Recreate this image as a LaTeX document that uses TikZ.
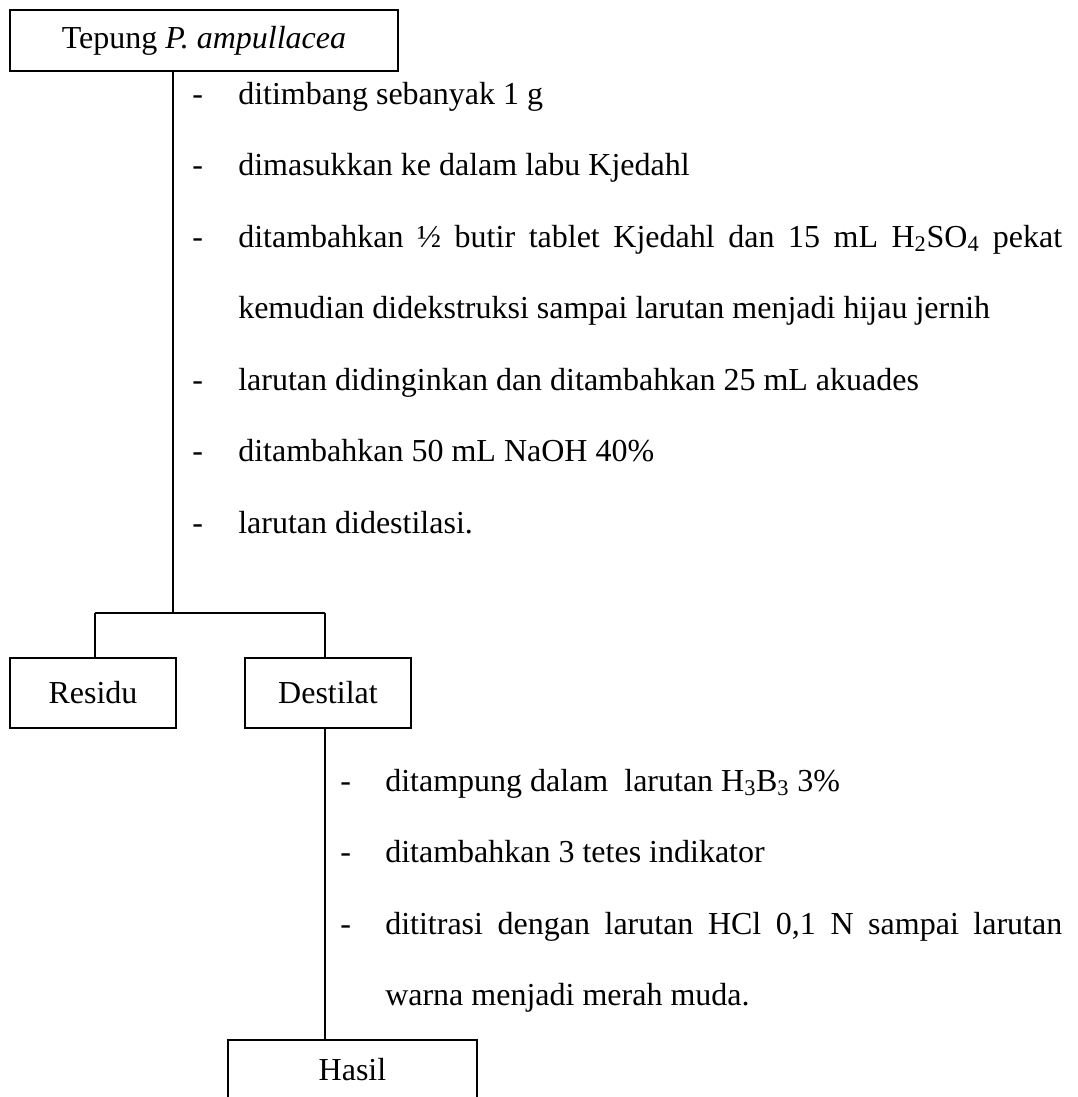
\documentclass[tikz,border=0pt]{standalone}
\usepackage{fontspec}
\setmainfont{Liberation Serif}
\begin{document}
\begin{tikzpicture}[x=0.75pt,y=-0.75pt,
  font=\fontsize{24}{28}\selectfont,
  boxnode/.style={draw,line width=1pt,inner sep=0pt,anchor=center},
  txt/.style={inner sep=0pt,anchor=base west},
  conn/.style={line width=1pt}]
\useasboundingbox (0,0) rectangle (1078,1097);
\clip (0,0) rectangle (1078,1097);
% boxes
\node[boxnode,minimum width=291pt,minimum height=45.75pt] (top) at (204,40.5) {Tepung \textit{P. ampullacea}};
\node[boxnode,minimum width=124.5pt,minimum height=52.5pt] (residu) at (93,693) {Residu};
\node[boxnode,minimum width=124.5pt,minimum height=52.5pt] (destilat) at (328,693) {Destilat};
\node[boxnode,minimum width=186.75pt,minimum height=45pt] (hasil) at (352.5,1070) {Hasil};
% junction coordinates
\coordinate (m) at (173,613);
\coordinate (rl) at (95,613);
\coordinate (rr) at (325,613);
% connectors
\draw[conn] (top.south -| m) -- (m);
\draw[conn] (rl) -- (rr);
\draw[conn] (rl) -- (rl |- residu.north);
\draw[conn] (rr) -- (rr |- destilat.north);
\draw[conn] (destilat.south -| rr) -- (hasil.north -| rr);
% upper steps
\foreach \y/\n in {104/d1,175.5/d2,247/d3,390/d4,461.5/d5,533/d6}
  \node[txt] (\n) at (192,\y) {-};
\node[txt] (s1) at (238,104) {ditimbang sebanyak 1 g};
\node[txt] (s2) at (238,175.5) {dimasukkan ke dalam labu Kjedahl};
\node[txt] (s3) at (238,247) {\makebox[618pt][s]{ditambahkan ½ butir tablet Kjedahl dan 15 mL H\textsubscript{2}SO\textsubscript{4} pekat}};
\node[txt] (s3b) at (238,318.5) {kemudian didekstruksi sampai larutan menjadi hijau jernih};
\node[txt] (s4) at (238,390) {larutan didinginkan dan ditambahkan 25 mL akuades};
\node[txt] (s5) at (238,461.5) {ditambahkan 50 mL NaOH 40\%};
\node[txt] (s6) at (238,533) {larutan didestilasi.};
% lower steps
\foreach \y/\n in {791/e1,862.5/e2,934/e3}
  \node[txt] (\n) at (340,\y) {-};
\node[txt] (t1) at (385,791) {ditampung dalam\ \ larutan H\textsubscript{3}B\textsubscript{3} 3\%};
\node[txt] (t2) at (385,862.5) {ditambahkan 3 tetes indikator};
\node[txt] (t3) at (385,934) {\makebox[507.75pt][s]{dititrasi dengan larutan HCl 0,1 N sampai larutan}};
\node[txt] (t3b) at (385,1005.5) {warna menjadi merah muda.};
\end{tikzpicture}
\end{document}
